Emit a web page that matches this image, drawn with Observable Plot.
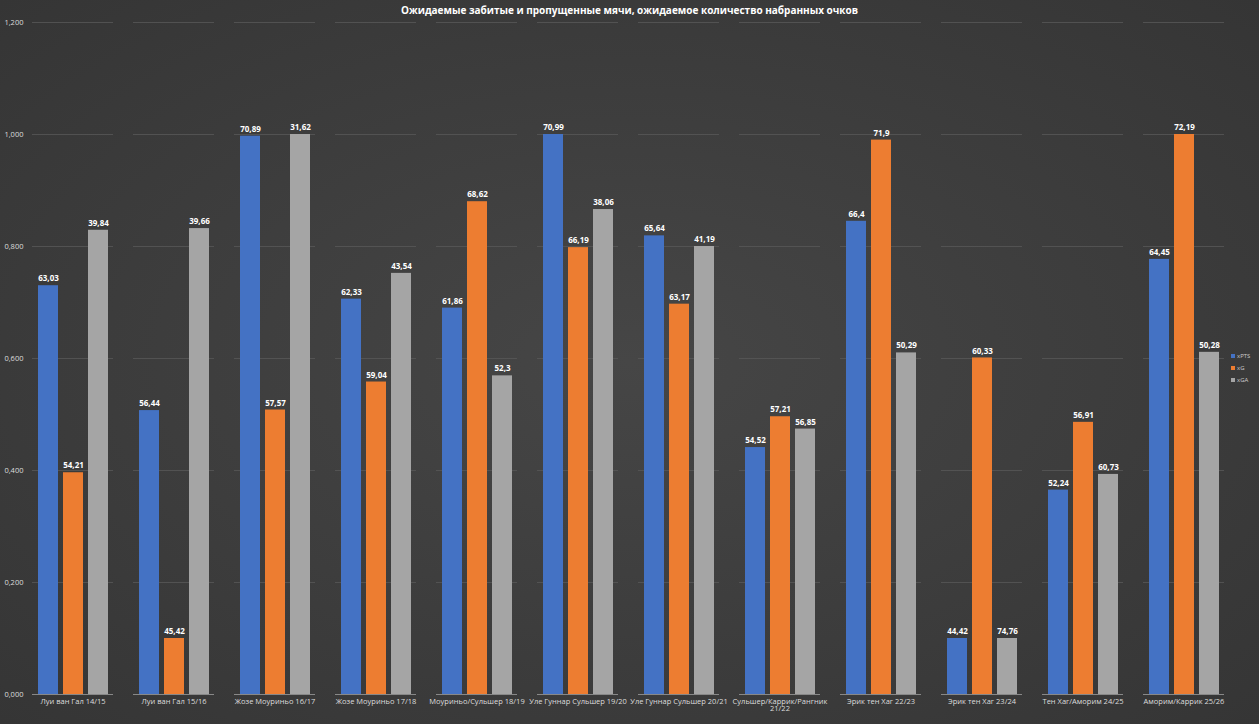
<!DOCTYPE html>
<html><head><meta charset="utf-8">
<script src="https://cdn.jsdelivr.net/npm/d3@7"></script>
<script src="https://cdn.jsdelivr.net/npm/@observablehq/plot@0.6"></script>
<style>
body{margin:0;background:radial-gradient(ellipse at center,#464646 0%,#353535 100%);width:1259px;height:724px;overflow:hidden;font-family:"Open Sans",Arial,sans-serif;}
#wrap{position:relative;width:1259px;height:724px;}
#title{position:absolute;top:3px;left:0;width:1259px;text-align:center;color:#fff;font-weight:bold;font-size:10px;}
#legend{position:absolute;left:1231px;top:350px;color:#ccc;font-size:6px;line-height:12px;}
#legend span{display:inline-block;width:4px;height:4px;margin-right:2px;}
</style></head><body><div id="wrap"><div id="title">Ожидаемые забитые и пропущенные мячи, ожидаемое количество набранных очков</div><div id="chart"></div>
<div id="legend"><div><span style="background:#4472c4"></span>xPTS</div><div><span style="background:#ed7d31"></span>xG</div><div><span style="background:#a5a5a5"></span>xGA</div></div></div>
<script>
const seasons=["Луи ван Гал 14/15","Луи ван Гал 15/16","Жозе Моуриньо 16/17","Жозе Моуриньо 17/18","Моуриньо/Сульшер 18/19","Уле Гуннар Сульшер 19/20","Уле Гуннар Сульшер 20/21","Сульшер/Каррик/Рангник\n21/22","Эрик тен Хаг 22/23","Эрик тен Хаг 23/24","Тен Хаг/Аморим 24/25","Аморим/Каррик 25/26"];
const series=["xPTS","xG","xGA"];
const xptsLabels=["63,03","56,44","70,89","62,33","61,86","70,99","65,64","54,52","66,4","44,42","52,24","64,45"];
const xgLabels=["54,21","45,42","57,57","59,04","68,62","66,19","63,17","57,21","71,9","60,33","56,91","72,19"];
const xgaLabels=["39,84","39,66","31,62","43,54","52,3","38,06","41,19","56,85","50,29","74,76","60,73","50,28"];
const xptsHeights=[0.730,0.507,0.997,0.706,0.690,1.0,0.819,0.441,0.845,0.1,0.365,0.777];
const xgHeights=[0.396,0.1,0.508,0.558,0.880,0.798,0.697,0.496,0.990,0.601,0.486,1.0];
const xgaHeights=[0.829,0.832,1.0,0.752,0.569,0.866,0.800,0.474,0.610,0.1,0.393,0.611];
const colors=["#4472c4","#ed7d31","#a5a5a5"];
const data=[];
const H=[xptsHeights,xgHeights,xgaHeights],L=[xptsLabels,xgLabels,xgaLabels];
seasons.forEach((s,i)=>series.forEach((k,j)=>data.push({season:s,series:k,h:H[j][i],label:L[j][i]})));
const fmt=d=>d3.format(".3f")(d).replace(".",",");
const p=Plot.plot({width:1259,height:724,marginTop:22,marginBottom:30,marginLeft:30,marginRight:34,
style:{background:"transparent",color:"#ddd",fontSize:"7.5px",fontFamily:"Open Sans, Arial, sans-serif"},
fx:{domain:seasons,padding:0.2,label:null,axis:"bottom",tickSize:0,tickPadding:4},
x:{domain:series,padding:0.2,axis:null},
y:{domain:[0,1.2],ticks:d3.range(0,1.21,0.2),tickFormat:fmt,label:null,tickSize:0,grid:false},
color:{domain:series,range:colors},
marks:[
Plot.ruleY(d3.range(0,1.21,0.2),{stroke:"#585858",strokeWidth:0.8}),
Plot.ruleX([0],{stroke:"#777"}),
Plot.barY(data,{fx:"season",x:"series",y:"h",fill:"series"}),
Plot.text(data,{fx:"season",x:"series",y:"h",text:"label",dy:-7,fill:"#fff",fontWeight:"bold",fontSize:8}),
Plot.ruleY([0],{stroke:"#888"})
]});
document.getElementById("chart").appendChild(p);
</script></body></html>
